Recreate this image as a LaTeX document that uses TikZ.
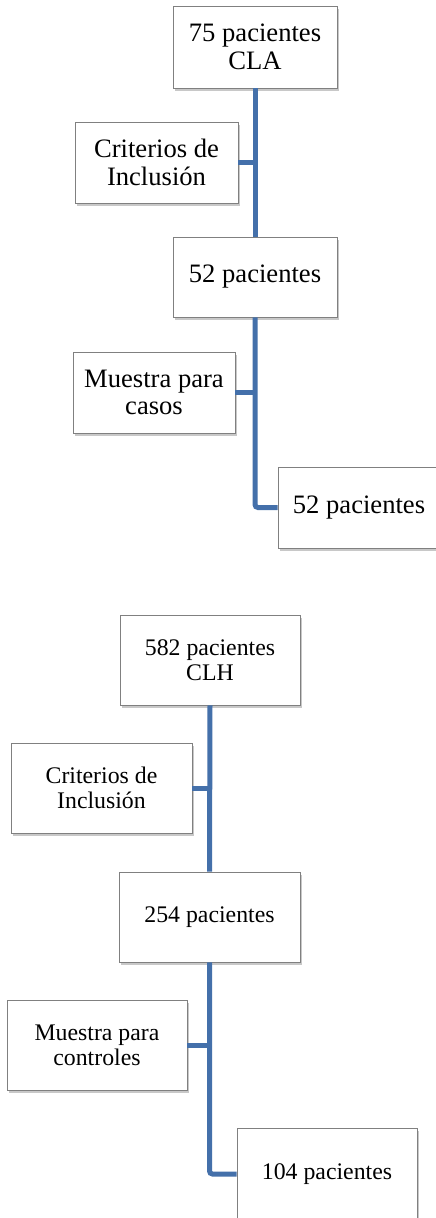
\documentclass[tikz,border=0pt]{standalone}
\usepackage{fontspec}
\setmainfont{Liberation Serif}
\usetikzlibrary{shadows}
\definecolor{linkblue}{RGB}{68,112,170}
\definecolor{boxborder}{RGB}{128,128,128}
\begin{document}
\begin{tikzpicture}[x=1pt,y=-1pt,
  box/.style={draw=boxborder, line width=0.8pt, fill=white, align=center, inner sep=2pt,
    drop shadow={shadow xshift=2pt, shadow yshift=-3pt, opacity=0.3, fill=black!70}},
  big/.style={font=\fontsize{26.6}{27.5}\selectfont},
  small/.style={font=\fontsize{23.8}{25}\selectfont},
  link/.style={draw=linkblue, line width=5pt, rounded corners=3pt}]
\useasboundingbox (0,0) rectangle (436,1218);
\fill[white] (0,0) rectangle (436,1218);
% top diagram
\node[box,big,minimum width=164pt,minimum height=82pt] (b1) at (255,47) {75 pacientes\\CLA};
\node[box,big,minimum width=163pt,minimum height=81pt] (b2) at (156.5,162.5) {Criterios de\\Inclusión};
\node[box,big,minimum width=164pt,minimum height=80pt] (b3) at (255,277) {52 pacientes};
\node[box,big,minimum width=162pt,minimum height=81pt] (b4) at (154,392.5) {Muestra para\\casos};
\node[box,big,minimum width=162pt,minimum height=81pt] (b5) at (359,507.5) {52 pacientes};
\draw[link] (b1.south) -- (b3.north);
\draw[link] (b2.east) -- (b2.east -| b1.south);
\draw[link] (b4.east) -- (b4.east -| b3.south);
\draw[link] (b3.south) |- (b5.west);
% bottom diagram
\node[box,small,minimum width=180pt,minimum height=90pt] (c1) at (210,660) {582 pacientes\\CLH};
\node[box,small,minimum width=181pt,minimum height=90pt] (c2) at (101.5,788) {Criterios de\\Inclusión};
\node[box,small,minimum width=181pt,minimum height=90pt] (c3) at (209.5,917) {254 pacientes};
\node[box,small,minimum width=180pt,minimum height=90pt] (c4) at (97,1045) {Muestra para\\controles};
\node[box,small,minimum width=180pt,minimum height=92pt] (c5) at (327,1174) {104 pacientes};
\draw[link] (c1.south) -- (c3.north);
\draw[link] (c2.east) -- (c2.east -| c1.south);
\draw[link] (c4.east) -- (c4.east -| c3.south);
\draw[link] (c3.south) |- (c5.west);
\end{tikzpicture}
\end{document}
